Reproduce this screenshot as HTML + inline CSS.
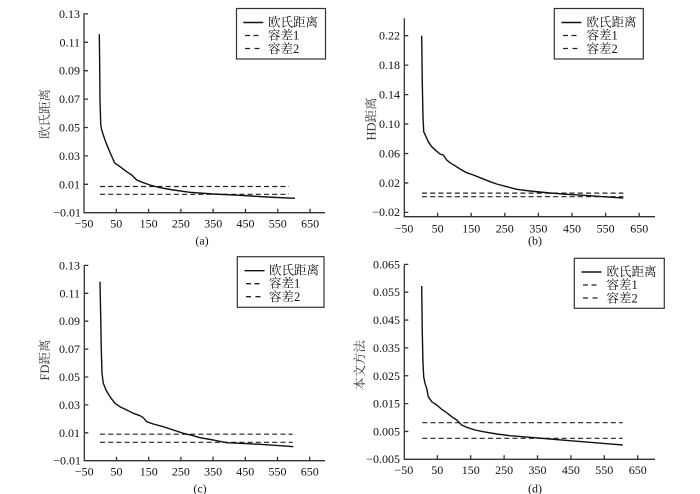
<!DOCTYPE html>
<html><head><meta charset="utf-8"><style>
html,body{margin:0;padding:0;background:#fff;}
svg{display:block;}
text{font-family:"Liberation Serif","Noto Serif CJK SC","Noto Sans CJK SC",serif;fill:#111;}
.t{font-size:12px;}
.yl{font-size:12.5px;fill:#3a3a3a;}
.lg{font-size:12.5px;}
.ax{stroke:#333;stroke-width:1.3;fill:none;}
.cv{stroke:#111;stroke-width:1.4;fill:none;stroke-linejoin:round;}
.ds{stroke:#222;stroke-width:1.2;stroke-dasharray:5,3.2;fill:none;}
.lb{stroke:#333;stroke-width:1.2;fill:#fff;}
</style></head><body>
<svg width="700" height="494" viewBox="0 0 700 494" xmlns="http://www.w3.org/2000/svg">
<rect width="700" height="494" fill="#fff"/>

<!-- ===== Panel (a) ===== -->
<g>
<path class="ax" d="M84,13.5 V212.7 H325"/>
<path class="ax" d="M84,184.3h4 M84,155.9h4 M84,127.5h4 M84,99.1h4 M84,70.7h4 M84,42.3h4 M84,13.9h4"/>
<path class="ax" d="M116.3,212.7v-4 M148.6,212.7v-4 M180.9,212.7v-4 M213.2,212.7v-4 M245.5,212.7v-4 M277.8,212.7v-4 M310.1,212.7v-4"/>
<g class="t" text-anchor="end" dominant-baseline="central">
<text x="81" y="212.7">−0.01</text><text x="80" y="184.3">0.01</text><text x="80" y="155.9">0.03</text><text x="80" y="127.5">0.05</text><text x="80" y="99.1">0.07</text><text x="80" y="70.7">0.09</text><text x="80" y="42.3">0.11</text><text x="80" y="13.9">0.13</text>
</g>
<g class="t" text-anchor="middle" dominant-baseline="central">
<text x="84" y="223.5">−50</text><text x="116.3" y="223.5">50</text><text x="148.6" y="223.5">150</text><text x="180.9" y="223.5">250</text><text x="213.2" y="223.5">350</text><text x="245.5" y="223.5">450</text><text x="277.8" y="223.5">550</text><text x="310.1" y="223.5">650</text>
<text x="202" y="240.5">(a)</text>
</g>
<text class="yl" x="45" y="114" text-anchor="middle" dominant-baseline="central" transform="rotate(-90 45 114)">欧氏距离</text>
<path class="ds" d="M100,186.5 H289"/>
<path class="ds" d="M100,194.3 H289"/>
<polyline class="cv" points="99.3,34.3 99.7,66.7 100,100 100.7,123.3 101.3,128.3 103.3,135 106,142.7 109.3,150.7 113.3,160 115,163.3 120,166.7 126.7,171.7 131.7,175 136.7,180 143.3,182.7 150,185 160,187.7 173.3,190 190,192.3 213.3,194 240,195.3 266.7,197 295,198.3"/>
<rect class="lb" x="236.5" y="8.5" width="89" height="50.5"/>
<path stroke="#111" stroke-width="1.4" d="M243.3,22.5 H263.3"/>
<path stroke="#222" stroke-width="1.3" d="M245,35.5 h5 M253.5,35.5 h5 M245,48.5 h5 M254.5,48.5 h5"/>
<g class="lg" dominant-baseline="central"><text x="268" y="22.5">欧氏距离</text><text x="268" y="35.5">容差1</text><text x="268" y="48.8">容差2</text></g>
</g>

<!-- ===== Panel (b) ===== -->
<g>
<path class="ax" d="M404.3,18.3 V216.7 H655"/>
<path class="ax" d="M404.3,212.4h4 M404.3,182.95h4 M404.3,153.5h4 M404.3,124.05h4 M404.3,94.6h4 M404.3,65.15h4 M404.3,35.7h4"/>
<path class="ax" d="M437.6,216.7v-4 M471.2,216.7v-4 M504.8,216.7v-4 M538.4,216.7v-4 M572,216.7v-4 M605.6,216.7v-4 M639.2,216.7v-4"/>
<g class="t" text-anchor="end" dominant-baseline="central">
<text x="400" y="212">−0.02</text><text x="400" y="182.95">0.02</text><text x="400" y="153.5">0.06</text><text x="400" y="124.05">0.10</text><text x="400" y="94.6">0.14</text><text x="400" y="65.15">0.18</text><text x="400" y="35.7">0.22</text>
</g>
<g class="t" text-anchor="middle" dominant-baseline="central">
<text x="404" y="228.5">−50</text><text x="437.6" y="228.5">50</text><text x="471.2" y="228.5">150</text><text x="504.8" y="228.5">250</text><text x="538.4" y="228.5">350</text><text x="572" y="228.5">450</text><text x="605.6" y="228.5">550</text><text x="639.2" y="228.5">650</text>
<text x="535" y="240.5">(b)</text>
</g>
<text class="yl" x="371.5" y="119" text-anchor="middle" dominant-baseline="central" transform="rotate(-90 371.5 119)">HD距离</text>
<path class="ds" d="M422,193.1 H623.3"/>
<path class="ds" d="M422,196.7 H623.3"/>
<polyline class="cv" points="421.7,35.7 422.3,83.3 423,116.7 423.7,131.7 426,136.7 428.3,141.7 431.7,146.7 436,150.7 440,154 443.3,155 446.7,160 450,162.7 455,165.7 460,169 466.7,172.7 473.3,175 481.7,178.3 490,181.7 496.7,184 506.7,186.7 516.7,189.3 530,191 550,193 566.7,194.3 583.3,195.3 603.3,196.7 623.3,198"/>
<rect class="lb" x="554.3" y="8.5" width="89" height="50.5"/>
<path stroke="#111" stroke-width="1.4" d="M561.5,22.5 H581.5"/>
<path stroke="#222" stroke-width="1.3" d="M563,35.5 h5 M571.5,35.5 h5 M563,48.5 h5 M572.5,48.5 h5"/>
<g class="lg" dominant-baseline="central"><text x="586.5" y="22.5">欧氏距离</text><text x="586.5" y="35.5">容差1</text><text x="586.5" y="48.8">容差2</text></g>
</g>

<!-- ===== Panel (c) ===== -->
<g>
<path class="ax" d="M84.3,265 V460.7 H325"/>
<path class="ax" d="M84.3,432.8h4 M84.3,404.9h4 M84.3,377h4 M84.3,349.1h4 M84.3,321.2h4 M84.3,293.3h4 M84.3,265.4h4"/>
<path class="ax" d="M116.5,460.7v-4 M148.7,460.7v-4 M180.9,460.7v-4 M213.1,460.7v-4 M245.3,460.7v-4 M277.5,460.7v-4 M309.7,460.7v-4"/>
<g class="t" text-anchor="end" dominant-baseline="central">
<text x="81" y="460.3">−0.01</text><text x="80" y="432.8">0.01</text><text x="80" y="404.9">0.03</text><text x="80" y="377">0.05</text><text x="80" y="349.1">0.07</text><text x="80" y="321.2">0.09</text><text x="80" y="293.3">0.11</text><text x="80" y="265.4">0.13</text>
</g>
<g class="t" text-anchor="middle" dominant-baseline="central">
<text x="84.3" y="471.7">−50</text><text x="116.5" y="471.7">50</text><text x="148.7" y="471.7">150</text><text x="180.9" y="471.7">250</text><text x="213.1" y="471.7">350</text><text x="245.3" y="471.7">450</text><text x="277.5" y="471.7">550</text><text x="309.7" y="471.7">650</text>
<text x="200" y="488.3">(c)</text>
</g>
<text class="yl" x="45" y="360" text-anchor="middle" dominant-baseline="central" transform="rotate(-90 45 360)">FD距离</text>
<path class="ds" d="M100,434.2 H292.7"/>
<path class="ds" d="M100,442.3 H292.7"/>
<polyline class="cv" points="100,281.7 100.7,316.7 101.3,350 102,373.3 103.3,383.3 106,390 110,396.7 115,403.3 120,406.7 126.7,410 133.3,413.3 140,415.7 143.3,417.7 146.7,421.7 153.3,424 163.3,426.7 173.3,430 183.3,433.3 193.3,435.7 200,437.7 213.3,440 226.7,442.7 240,443.3 260,444.3 280,445.7 293.3,446.7"/>
<rect class="lb" x="237.3" y="256.7" width="86.7" height="50.6"/>
<path stroke="#111" stroke-width="1.4" d="M244.5,270.7 H264.5"/>
<path stroke="#222" stroke-width="1.3" d="M246,283.7 h5 M254.5,283.7 h5 M246,296.7 h5 M255.5,296.7 h5"/>
<g class="lg" dominant-baseline="central"><text x="269" y="270.7">欧氏距离</text><text x="269" y="283.7">容差1</text><text x="269" y="297">容差2</text></g>
</g>

<!-- ===== Panel (d) ===== -->
<g>
<path class="ax" d="M404.3,264.3 V459.3 H655"/>
<path class="ax" d="M404.3,431.45h4 M404.3,403.6h4 M404.3,375.75h4 M404.3,347.9h4 M404.3,320.05h4 M404.3,292.2h4 M404.3,264.35h4"/>
<path class="ax" d="M437.3,459.3v-4 M470.7,459.3v-4 M504.1,459.3v-4 M537.5,459.3v-4 M570.9,459.3v-4 M604.3,459.3v-4 M637.7,459.3v-4"/>
<g class="t" text-anchor="end" dominant-baseline="central">
<text x="400" y="459">−0.005</text><text x="400" y="431.45">0.005</text><text x="400" y="403.6">0.015</text><text x="400" y="375.75">0.025</text><text x="400" y="347.9">0.035</text><text x="400" y="320.05">0.045</text><text x="400" y="292.2">0.055</text><text x="400" y="264.35">0.065</text>
</g>
<g class="t" text-anchor="middle" dominant-baseline="central">
<text x="403.9" y="470">−50</text><text x="437.3" y="470">50</text><text x="470.7" y="470">150</text><text x="504.1" y="470">250</text><text x="537.5" y="470">350</text><text x="570.9" y="470">450</text><text x="604.3" y="470">550</text><text x="637.7" y="470">650</text>
<text x="535" y="488.3">(d)</text>
</g>
<text class="yl" x="360" y="365" text-anchor="middle" dominant-baseline="central" transform="rotate(-90 360 365)">本文方法</text>
<path class="ds" d="M422.3,422.7 H622.7"/>
<path class="ds" d="M422.3,438.3 H622.7"/>
<polyline class="cv" points="421.7,286 422.3,333.3 423,363.3 423.7,376.7 425,383.3 426.7,388.3 428.3,396.7 431.7,401.7 436.7,405 441.7,409.3 446.7,412.7 451.7,416.7 456.7,420 461.7,425 466.7,427.3 475,430 483.3,431.7 496.7,434 510,435.7 530,437.3 550,439 570,440.7 590,442.3 606.7,443.7 622.7,445"/>
<rect class="lb" x="574.3" y="258.3" width="90" height="50"/>
<path stroke="#111" stroke-width="1.4" d="M581.5,272 H601.5"/>
<path stroke="#222" stroke-width="1.3" d="M583,285 h5 M591.5,285 h5 M583,298 h5 M592.5,298 h5"/>
<g class="lg" dominant-baseline="central"><text x="606.5" y="272">欧氏距离</text><text x="606.5" y="285">容差1</text><text x="606.5" y="298.3">容差2</text></g>
</g>
</svg>
</body></html>
